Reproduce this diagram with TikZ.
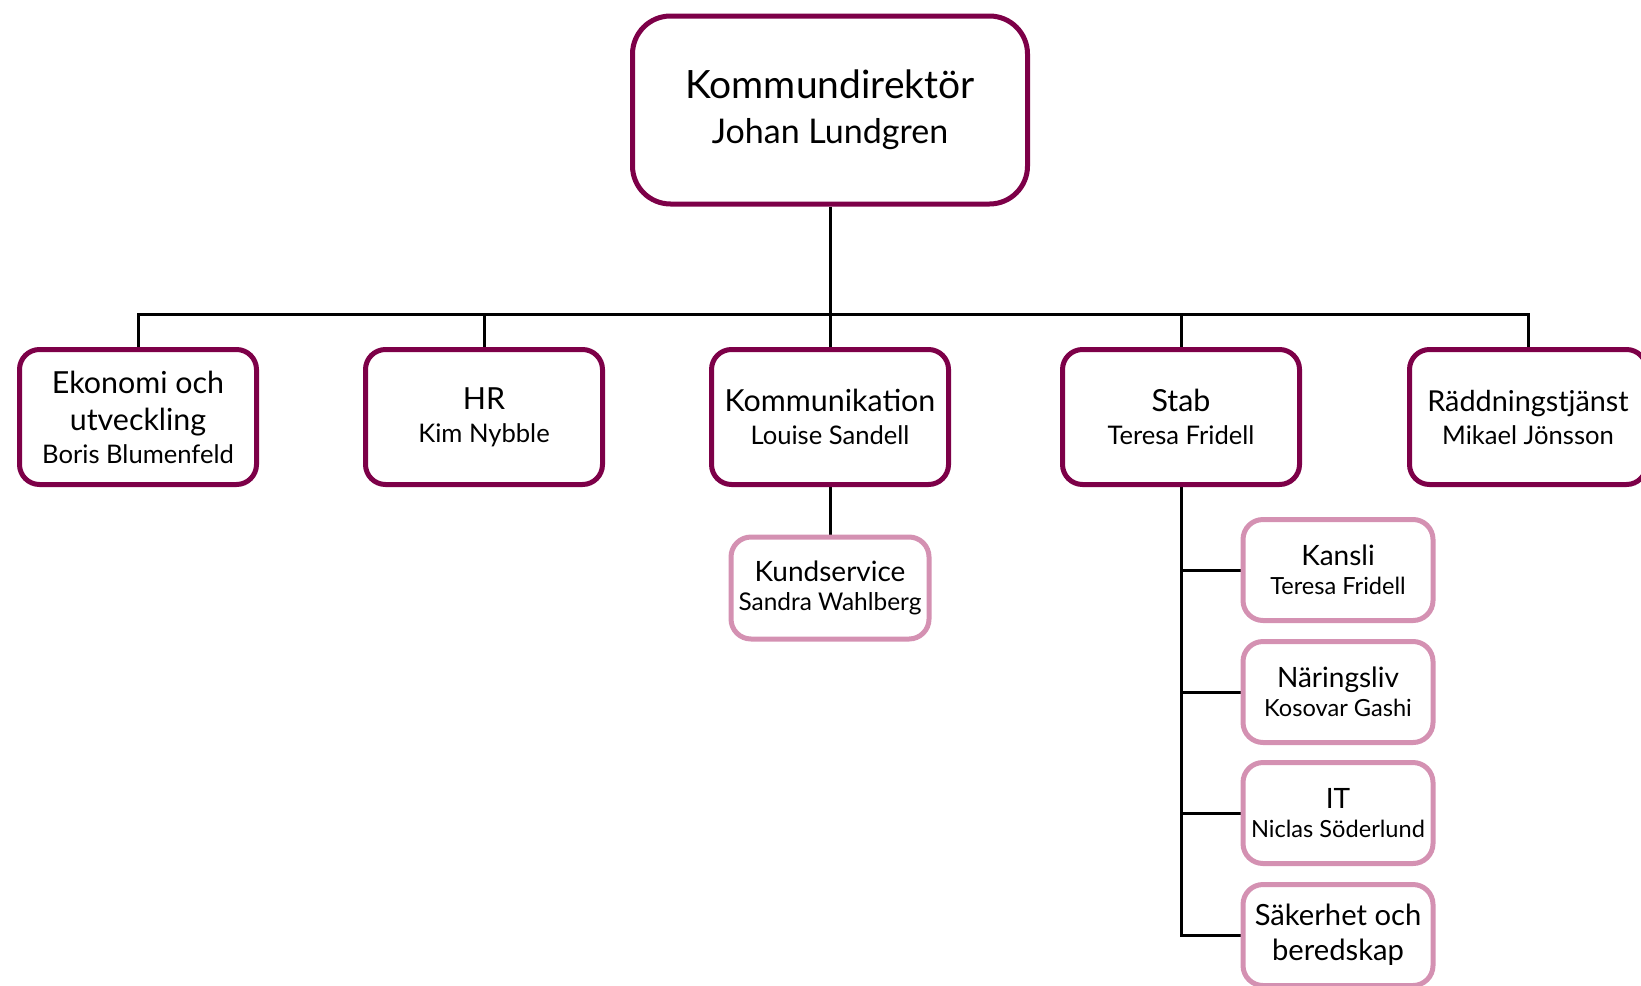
\documentclass[tikz,border=0pt]{standalone}
\usepackage{fontspec}
\setmainfont{Lato}
\usetikzlibrary{backgrounds}
\definecolor{dept}{RGB}{125,0,72}
\definecolor{unit}{RGB}{212,145,178}

\begin{document}
\begin{tikzpicture}[x=0.5pt, y=-0.5pt]
    \useasboundingbox (0,0) rectangle (1641,985);

    \node (0) [draw=dept, line width=2.5pt, rounded corners=19pt, minimum width=197.5pt, minimum height=94pt, align=center, font=\fontsize{17}{22.5}\selectfont] at (830,110) {{\fontsize{19.5}{22.5}\selectfont Kommundirektör}\\Johan Lundgren};

    \begin{scope}[every node/.style={draw=dept, line width=2.5pt, rounded corners=10pt, minimum width=118.5pt, minimum height=67.5pt, align=center, font=\fontsize{12.8}{16.5}\selectfont}]
        \node (1) at (138,417) {{\fontsize{15.2}{16.5}\selectfont Ekonomi och}\\[2pt]{\fontsize{15.2}{16.5}\selectfont utveckling}\\Boris Blumenfeld};
        \node (2) at (484,417) {{\fontsize{15.2}{16.5}\selectfont HR}\\Kim Nybble};
        \node (3) at (830,417) {{\fontsize{15.2}{16.5}\selectfont Kommunikation}\\Louise Sandell};
        \node (4) at (1181,417) {{\fontsize{15.2}{16.5}\selectfont Stab}\\Teresa Fridell};
        \node (5) at (1528,417) {{\fontsize{14.4}{16.5}\selectfont Räddningstjänst}\\Mikael Jönsson};
    \end{scope}

    \begin{scope}[every node/.style={draw=unit, line width=2.5pt, rounded corners=10pt, minimum width=95pt, minimum height=50.5pt, align=center, font=\fontsize{11.8}{14.5}\selectfont}]
        \node (6) [minimum width=99pt, minimum height=51pt] at (830,588) {{\fontsize{14}{14.5}\selectfont Kundservice}\\{\fontsize{12.2}{14.5}\selectfont Sandra Wahlberg}};
        \node (7) at (1338,570) {{\fontsize{14}{14.5}\selectfont Kansli}\\Teresa Fridell};
        \node (8) at (1338,692) {{\fontsize{14}{14.5}\selectfont Näringsliv}\\Kosovar Gashi};
        \node (9) at (1338,813) {{\fontsize{14}{14.5}\selectfont IT}\\Niclas Söderlund};
        \node (10) at (1338,935) {{\fontsize{14.6}{14.5}\selectfont Säkerhet och}\\[3pt]{\fontsize{14.6}{14.5}\selectfont beredskap}};
    \end{scope}

    \begin{scope}[on background layer, every edge/.style={draw, line width=1.5pt}, elbow/.style={to path={-| (\tikztotarget)}}, branch/.style={to path={|- (\tikztotarget)}}]
        \coordinate (bus) at (830,314);
        \path [-] (0) edge (bus);
        \foreach \n in {1,...,5}
            \path [-] (bus) edge [elbow] (\n);
        \path [-] (3) edge (6);
        \foreach \n in {7,...,10}
            \path [-] (4) edge [branch] (\n);
    \end{scope}
\end{tikzpicture}
\end{document}
